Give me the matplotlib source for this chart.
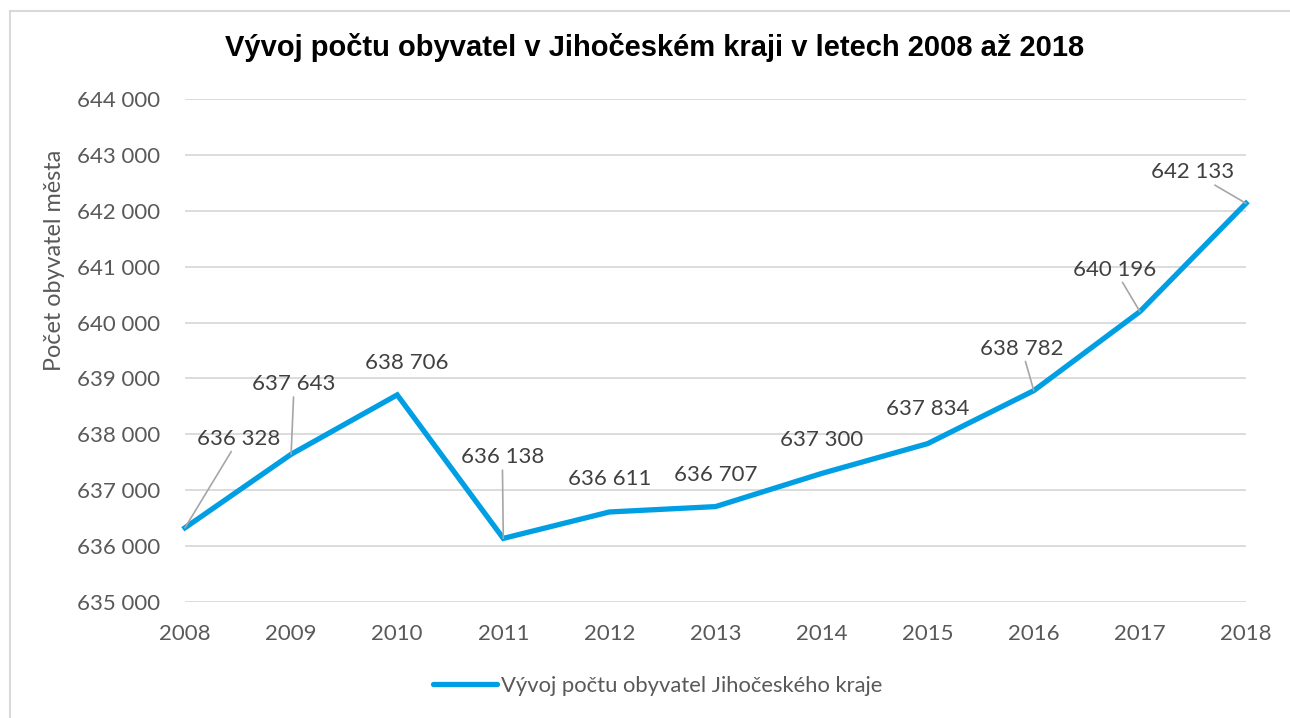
import matplotlib.pyplot as plt
from matplotlib.lines import Line2D
from matplotlib.ticker import FuncFormatter

# Data
roky = [2008, 2009, 2010, 2011, 2012, 2013, 2014, 2015, 2016, 2017, 2018]
obyvatele = [636328, 637643, 638706, 636138, 636611, 636707, 637300, 637834, 638782, 640196, 642133]

# label offsets in pixels (dx, dy) and whether a leader line is drawn
offsety = [(54, 89), (3, 70), (10, 32), (-1, 81), (0, 33), (0, 32), (0, 33), (0, 35), (-12, 42), (-25, 42), (-53, 31)]
vodici = [True, True, False, True, False, False, False, False, True, True, True]

modra = '#009FE3'
seda = '#595959'
pismo = 'Lato'

fig = plt.figure(figsize=(12.9, 7.18), dpi=100)
ax = fig.add_axes([185 / 1290, 1 - 602 / 718, (1246 - 185) / 1290, (602 - 99) / 718])

ax.plot(roky, obyvatele, color=modra, linewidth=3.8, solid_joinstyle='miter', zorder=3, clip_on=False)

ax.set_xlim(2008, 2018)
ax.set_ylim(635000, 644000)
ax.set_xticks(roky)
ax.set_yticks(range(635000, 644001, 1000))
ax.yaxis.set_major_formatter(FuncFormatter(lambda v, p: f'{int(v):,}'.replace(',', ' ')))
ax.grid(axis='y', color='#D9D9D9', linewidth=1.3)
ax.set_axisbelow(True)
for s in ax.spines.values():
    s.set_visible(False)
ax.tick_params(length=0, colors=seda, labelsize=16, pad=18)
ax.tick_params(axis='x', pad=16)
for lab in ax.get_xticklabels() + ax.get_yticklabels():
    lab.set_family(pismo)

for x, y, (dx, dy), v in zip(roky, obyvatele, offsety, vodici):
    props = dict(arrowstyle='-', color='#A6A6A6', lw=1.2, shrinkA=0, shrinkB=0) if v else None
    ax.annotate(f'{y:,}'.replace(',', ' '), xy=(x, y), xytext=(dx, dy), textcoords='offset pixels',
                ha='center', va='center', fontsize=16, color='#404040', family=pismo,
                arrowprops=props, annotation_clip=False, zorder=4)

ax.set_ylabel('Počet obyvatel města', fontsize=16.8, color=seda, family=pismo)
ax.yaxis.set_label_coords(-120 / 1061, (602 - 260) / 503)

fig.text(655 / 1290, 1 - 48 / 718, 'Vývoj počtu obyvatel v Jihočeském kraji v letech 2008 až 2018',
         ha='center', va='center', fontsize=21, fontweight='bold', family='Liberation Sans', color='black')

leg = ax.legend([Line2D([], [], color=modra, linewidth=3.8, solid_capstyle='round')],
                ['Vývoj počtu obyvatel Jihočeského kraje'], loc='center',
                bbox_to_anchor=(658 / 1290, 1 - 686 / 718), bbox_transform=fig.transFigure,
                frameon=False, handlelength=2.9, handletextpad=0.2,
                prop={'family': pismo, 'size': 15.8})
for t in leg.get_texts():
    t.set_color(seda)

# chart frame
fig.add_artist(Line2D([10 / 1290, 1], [1 - 11 / 718, 1 - 11 / 718], color='#D9D9D9', lw=1.5, transform=fig.transFigure))
fig.add_artist(Line2D([10 / 1290, 10 / 1290], [0, 1 - 11 / 718], color='#D9D9D9', lw=1.5, transform=fig.transFigure))

fig.savefig('out.png', dpi=100, facecolor='white')
